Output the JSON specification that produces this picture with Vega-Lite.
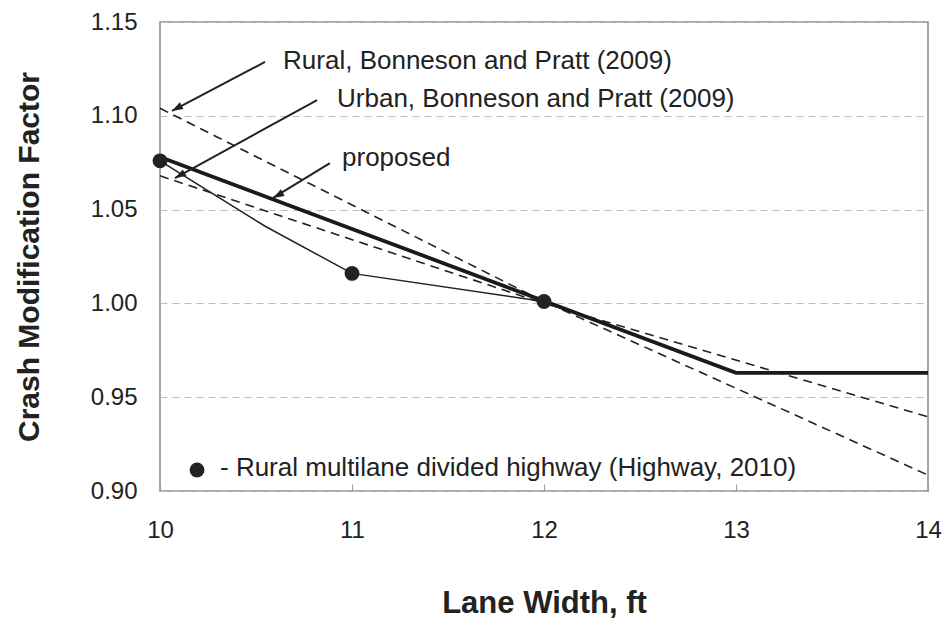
{
  "$schema": "https://vega.github.io/schema/vega-lite/v6.json",
  "width": 768,
  "height": 469,
  "autosize": {"type": "none"},
  "padding": {"left": 160, "top": 22, "right": 16, "bottom": 129},
  "background": "white",
  "config": {
    "font": "Liberation Sans",
    "view": {"stroke": "#8a8a8a", "strokeWidth": 1.5}
  },
  "datasets": {
    "curves": [
      {"series": "Rural", "x": 10, "y": 1.104},
      {"series": "Rural", "x": 12, "y": 1.001},
      {"series": "Rural", "x": 14, "y": 0.9085},
      {"series": "Urban", "x": 10, "y": 1.068},
      {"series": "Urban", "x": 12, "y": 1.0},
      {"series": "Urban", "x": 14, "y": 0.9395},
      {"series": "Proposed", "x": 10, "y": 1.078},
      {"series": "Proposed", "x": 13, "y": 0.963},
      {"series": "Proposed", "x": 14, "y": 0.963},
      {"series": "Highway", "x": 10, "y": 1.076},
      {"series": "Highway", "x": 10.55, "y": 1.041},
      {"series": "Highway", "x": 11, "y": 1.016},
      {"series": "Highway", "x": 12, "y": 1.001}
    ],
    "obs": [
      {"x": 10, "y": 1.076},
      {"x": 11, "y": 1.016},
      {"x": 12, "y": 1.001},
      {"x": 10.193, "y": 0.9112}
    ],
    "notes": [
      {"label": "Rural, Bonneson and Pratt (2009)", "x": 10.641, "y": 1.1292},
      {"label": "Urban, Bonneson and Pratt (2009)", "x": 10.922, "y": 1.109},
      {"label": "proposed", "x": 10.948, "y": 1.0775},
      {"label": "- Rural multilane divided highway (Highway, 2010)", "x": 10.3125, "y": 0.9122}
    ],
    "arrows": [
      {"x": 10.0625, "y": 1.1026, "tx": 10.547, "ty": 1.1287},
      {"x": 10.078, "y": 1.0668, "tx": 10.818, "ty": 1.1084},
      {"x": 10.589, "y": 1.0562, "tx": 10.885, "ty": 1.0748}
    ]
  },
  "encoding": {
    "x": {
      "field": "x",
      "type": "quantitative",
      "scale": {"domain": [10, 14], "nice": false, "zero": false},
      "axis": {
        "values": [10, 11, 12, 13, 14],
        "title": "Lane Width, ft",
        "titleFontSize": 31,
        "titleFontWeight": "bold",
        "titleColor": "#222",
        "titlePadding": 46,
        "labelFontSize": 24,
        "labelColor": "#222",
        "labelPadding": 34,
        "ticks": true,
        "tickSize": -7,
        "tickColor": "#999",
        "domain": false,
        "grid": false,
        "labelFlush": false
      }
    },
    "y": {
      "field": "y",
      "type": "quantitative",
      "scale": {"domain": [0.9, 1.15], "nice": false, "zero": false},
      "axis": {
        "values": [0.9, 0.95, 1.0, 1.05, 1.1, 1.15],
        "format": ".2f",
        "title": "Crash Modification Factor",
        "titleFontSize": 30,
        "titleFontWeight": "bold",
        "titleColor": "#222",
        "titlePadding": 46,
        "labelFontSize": 24,
        "labelColor": "#222",
        "labelPadding": 23,
        "ticks": false,
        "domain": false,
        "grid": true,
        "gridColor": "#bdbdbd",
        "gridDash": [7, 5],
        "gridWidth": 1.2,
        "labelFlush": false
      }
    }
  },
  "layer": [
    {
      "data": {"name": "curves"},
      "transform": [{"filter": "datum.series === 'Rural'"}],
      "mark": {"type": "line", "color": "#222", "strokeWidth": 1.6, "strokeDash": [9, 6]}
    },
    {
      "data": {"name": "curves"},
      "transform": [{"filter": "datum.series === 'Urban'"}],
      "mark": {"type": "line", "color": "#222", "strokeWidth": 1.6, "strokeDash": [9, 6]}
    },
    {
      "data": {"name": "curves"},
      "transform": [{"filter": "datum.series === 'Highway'"}],
      "mark": {"type": "line", "color": "#222", "strokeWidth": 1.5}
    },
    {
      "data": {"name": "curves"},
      "transform": [{"filter": "datum.series === 'Proposed'"}],
      "mark": {"type": "line", "color": "#1a1a1a", "strokeWidth": 3.8}
    },
    {
      "data": {"name": "obs"},
      "mark": {"type": "point", "filled": true, "color": "#222", "size": 220, "opacity": 1}
    },
    {
      "data": {"name": "arrows"},
      "mark": {"type": "rule", "color": "#222", "strokeWidth": 2},
      "encoding": {
        "x2": {"field": "tx"},
        "y2": {"field": "ty"}
      }
    },
    {
      "data": {"name": "arrows"},
      "mark": {
        "type": "point",
        "filled": true,
        "color": "#222",
        "opacity": 1,
        "shape": "M0,0L-0.45,1.3L0.45,1.3Z",
        "size": 289,
        "angle": 241
      }
    },
    {
      "data": {"name": "notes"},
      "mark": {"type": "text", "align": "left", "baseline": "middle", "fontSize": 26, "color": "#222", "font": "Liberation Sans"},
      "encoding": {"text": {"field": "label"}}
    }
  ]
}
